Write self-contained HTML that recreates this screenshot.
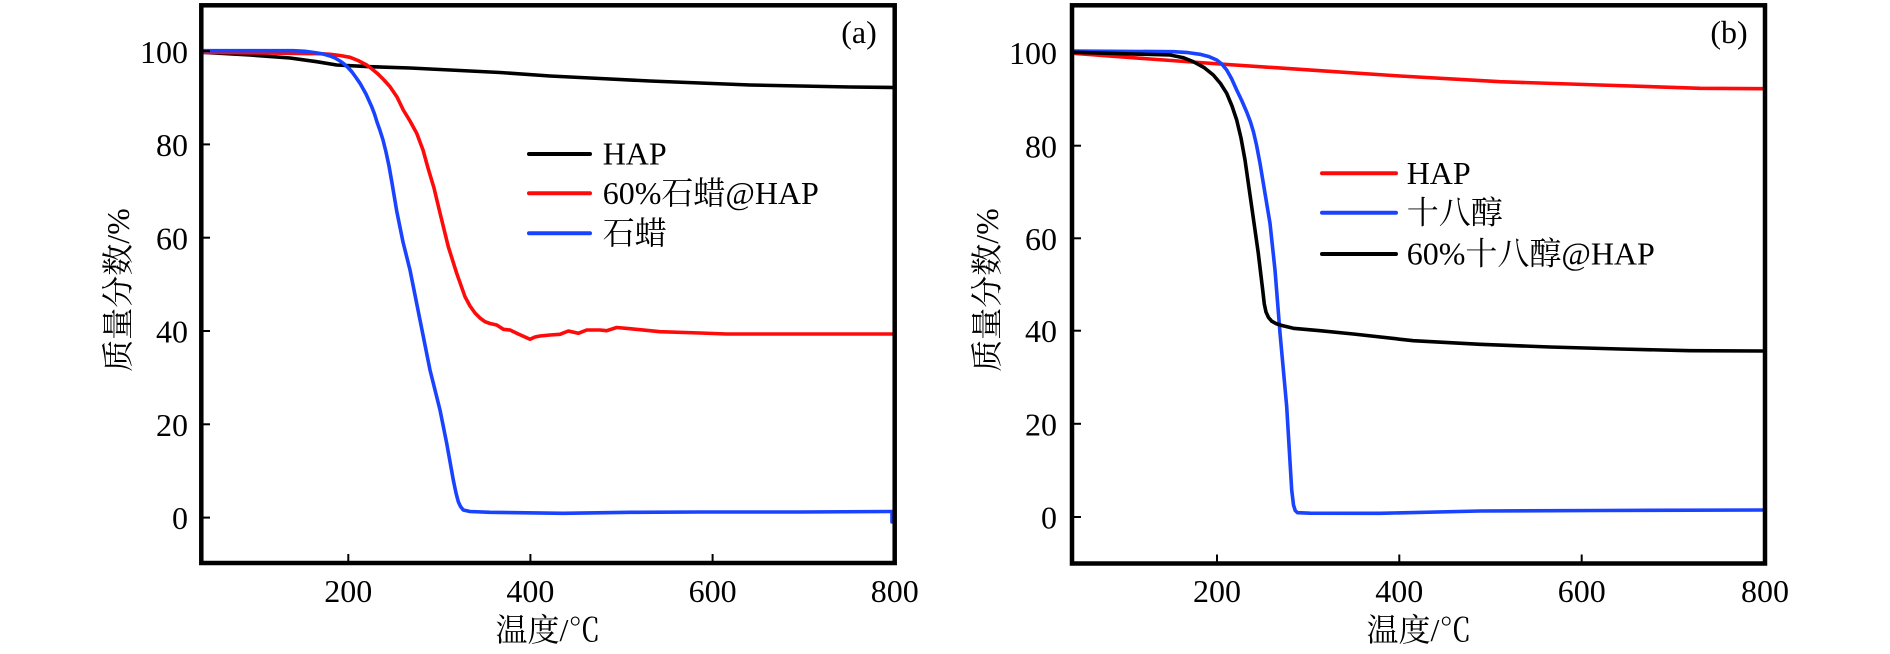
<!DOCTYPE html>
<html>
<head>
<meta charset="utf-8">
<style>
html,body{margin:0;padding:0;background:#fff;}
svg{display:block;}
text{font-family:"Liberation Serif","Noto Serif CJK SC","Noto Sans CJK SC",serif;fill:#000;}
</style>
</head>
<body>
<svg width="1890" height="654" viewBox="0 0 1890 654" xmlns="http://www.w3.org/2000/svg">
<rect x="0" y="0" width="1890" height="654" fill="#fff"/>

<!-- ============ PANEL A ============ -->
<g fill="none" stroke-linejoin="round" stroke-linecap="round" stroke-width="3.6">
  <polyline stroke="#000" points="203,52.3 250,55 290,58 316.7,61.7 336.7,65 370,66.7 410,68 450,70 500,72.5 550,76 600,78.5 650,81 700,83 750,85 800,86 850,87 893,87.5"/>
  <polyline stroke="#ff0a0a" points="203,52.3 250,52.8 300,53.5 320,53.7 330,54.3 340,55.5 350,57.3 358,60.5 366.7,65 372,69 378,74 384,80 390,86.7 397,97 403.3,110 410,121 416.7,133.3 423,150 428,168 434,188 440,213 448.3,246.7 456.7,273.3 465,296.7 470,306 475,313 480,318 485,321.7 490,323.5 496.7,325 503.3,329.3 510,330 518.3,334 525,337 530,339.3 535,337 540,336 550,335 560,334.3 568.3,331 578.3,333.3 586.7,330 600,330 606.7,330.7 616.7,327.5 630,328.7 660,331.7 700,333 726.7,334 800,334 893,334"/>
  <polyline stroke="#1a43ff" points="203,50.7 293.3,50.7 305,51.3 315,52.6 323.3,54 330,56 335,58 340,61 343.3,63.3 348,67.5 352,72 356,77.5 360,83.3 366,94 371.7,106.7 374.5,114 377,122 380,130.5 383,140 386,152 389,166 392,183 396.7,211 403,242 410,270 420,320 430,370 440,410 446.7,443.3 453.3,480 456,493 458.3,501.7 460.5,506.5 463.3,510 470,511.5 490,512.3 563.3,513.3 630,512.3 700,512 800,512 892,511.5 892,522"/>
</g>
<rect x="201.3" y="5.3" width="693.4" height="557.7" fill="none" stroke="#000" stroke-width="4.5"/>
<g stroke="#000" stroke-width="2">
  <line x1="201.3" y1="517.6" x2="210" y2="517.6"/>
  <line x1="201.3" y1="424.3" x2="210" y2="424.3"/>
  <line x1="201.3" y1="331" x2="210" y2="331"/>
  <line x1="201.3" y1="237.7" x2="210" y2="237.7"/>
  <line x1="201.3" y1="144.4" x2="210" y2="144.4"/>
  <line x1="201.3" y1="51.1" x2="210" y2="51.1"/>
  <line x1="348.3" y1="563" x2="348.3" y2="554"/>
  <line x1="530.4" y1="563" x2="530.4" y2="554"/>
  <line x1="712.6" y1="563" x2="712.6" y2="554"/>
</g>
<g font-size="32" text-anchor="end">
  <text x="188" y="529">0</text>
  <text x="188" y="436">20</text>
  <text x="188" y="342.5">40</text>
  <text x="188" y="249.5">60</text>
  <text x="188" y="156">80</text>
  <text x="188" y="63">100</text>
</g>
<g font-size="32" text-anchor="middle">
  <text x="348.3" y="602">200</text>
  <text x="530.4" y="602">400</text>
  <text x="712.6" y="602">600</text>
  <text x="894.7" y="602">800</text>
</g>
<text x="548" y="641" font-size="32" text-anchor="middle">温度/℃</text>
<text transform="translate(129,290) rotate(-90)" font-size="32" text-anchor="middle">质量分数/%</text>
<text x="859" y="43" font-size="32" text-anchor="middle">(a)</text>
<g stroke-width="4" stroke-linecap="round">
  <line x1="529" y1="154" x2="590" y2="154" stroke="#000"/>
  <line x1="529" y1="193.3" x2="590" y2="193.3" stroke="#ff0a0a"/>
  <line x1="529" y1="233.3" x2="590" y2="233.3" stroke="#1a43ff"/>
</g>
<g font-size="32">
  <text x="602.7" y="164.5">HAP</text>
  <text x="602.7" y="204">60%石蜡@HAP</text>
  <text x="602.7" y="244">石蜡</text>
</g>

<!-- ============ PANEL B ============ -->
<g fill="none" stroke-linejoin="round" stroke-linecap="round" stroke-width="3.6">
  <polyline stroke="#ff0a0a" points="1074,53.3 1150,59 1220,64 1320,70.7 1400,76 1500,81.7 1600,85 1700,88.3 1763,88.7"/>
  <polyline stroke="#1a43ff" points="1074,51 1173.3,51.7 1188,52.6 1200,54.3 1209,56.6 1216.7,60 1222,64.2 1226.7,70 1231.5,78.5 1236.7,90 1241.5,100 1246.7,112 1250.5,122 1253.5,132 1256.5,145 1260,163.3 1265,193.3 1270,223.3 1275,270 1280,333 1286.7,406.7 1291.7,490 1293.5,505 1295.2,510.5 1297.5,512.7 1310,513.2 1380,513.3 1480,511 1600,510.5 1763,510"/>
  <polyline stroke="#000" points="1074,52.3 1170,55 1183,57.6 1193.3,61.7 1204,67.5 1213.3,75 1220.5,83.5 1226.7,93.3 1232,106 1236.7,120 1241,138 1245,160 1251.7,206.7 1258.3,253.3 1262.7,290 1264.3,304 1266,312 1268.5,317.5 1271.7,321.2 1276,323.6 1282,325.5 1293.3,328.3 1320,330.7 1353.3,334 1413.3,340.7 1480,344.3 1550,347 1620,349 1690,350.7 1763,351"/>
</g>
<rect x="1072" y="5.3" width="693" height="558.2" fill="none" stroke="#000" stroke-width="4.5"/>
<g stroke="#000" stroke-width="2">
  <line x1="1072" y1="517" x2="1081" y2="517"/>
  <line x1="1072" y1="423.8" x2="1081" y2="423.8"/>
  <line x1="1072" y1="330.7" x2="1081" y2="330.7"/>
  <line x1="1072" y1="238.3" x2="1081" y2="238.3"/>
  <line x1="1072" y1="145.7" x2="1081" y2="145.7"/>
  <line x1="1072" y1="52.3" x2="1081" y2="52.3"/>
  <line x1="1217" y1="563.5" x2="1217" y2="554.5"/>
  <line x1="1399.3" y1="563.5" x2="1399.3" y2="554.5"/>
  <line x1="1581.7" y1="563.5" x2="1581.7" y2="554.5"/>
</g>
<g font-size="32" text-anchor="end">
  <text x="1057" y="528.5">0</text>
  <text x="1057" y="435.5">20</text>
  <text x="1057" y="342">40</text>
  <text x="1057" y="250">60</text>
  <text x="1057" y="157.5">80</text>
  <text x="1057" y="64">100</text>
</g>
<g font-size="32" text-anchor="middle">
  <text x="1217" y="602">200</text>
  <text x="1399.3" y="602">400</text>
  <text x="1581.7" y="602">600</text>
  <text x="1765" y="602">800</text>
</g>
<text x="1419" y="641" font-size="32" text-anchor="middle">温度/℃</text>
<text transform="translate(998,290) rotate(-90)" font-size="32" text-anchor="middle">质量分数/%</text>
<text x="1729" y="43" font-size="32" text-anchor="middle">(b)</text>
<g stroke-width="4" stroke-linecap="round">
  <line x1="1322" y1="173.3" x2="1396" y2="173.3" stroke="#ff0a0a"/>
  <line x1="1322" y1="212.7" x2="1396" y2="212.7" stroke="#1a43ff"/>
  <line x1="1322" y1="254" x2="1396" y2="254" stroke="#000"/>
</g>
<g font-size="32">
  <text x="1406.7" y="184">HAP</text>
  <text x="1406.7" y="223.5">十八醇</text>
  <text x="1406.7" y="264.5">60%十八醇@HAP</text>
</g>
</svg>
</body>
</html>
